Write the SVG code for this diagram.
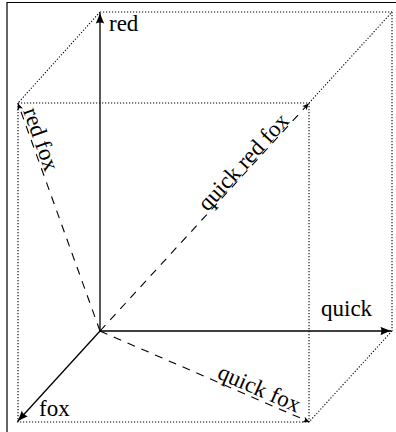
<svg xmlns="http://www.w3.org/2000/svg" width="396" height="432" viewBox="0 0 396 432">
<style>
.lbl{font-family:"Liberation Serif","Times New Roman",serif;font-size:23px;fill:#000}
.axis{stroke:#000;stroke-width:1.3;fill:none}
.dash{stroke:#000;stroke-width:1.1;fill:none;stroke-dasharray:8 7}
.dot{stroke:#000;stroke-width:1.1;fill:none;stroke-dasharray:1.2 1.8}
</style>
<defs>
<marker id="big" viewBox="-11 -5 12 10" markerWidth="12" markerHeight="10" refX="0" refY="0" orient="auto" markerUnits="userSpaceOnUse">
<path d="M0,0 C-3,-1 -7,-2.6 -10.5,-4.2 C-9.3,-1.5 -9.3,1.5 -10.5,4.2 C-7,2.6 -3,1 0,0Z" fill="#000"/>
</marker>
<marker id="small" viewBox="-7 -4 8 8" markerWidth="8" markerHeight="8" refX="0" refY="0" orient="auto" markerUnits="userSpaceOnUse">
<path d="M0,0 L-6.5,-3 L-4.8,0 L-6.5,3Z" fill="#000"/>
</marker>
</defs>
<rect width="396" height="432" fill="#fff"/>
<path d="M7,432 V2.5 H396" stroke="#000" stroke-width="1.2" fill="none"/>
<g id="connectors">
<g id="cube-edges">
<path class="dot" d="M100,12 H392"/>
<path class="dot" d="M100,12 L18,103"/>
<path class="dot" d="M18,103 H309"/>
<path class="dot" d="M309,103 L392,12"/>
<path class="dot" d="M392,12 V331"/>
<path class="dot" d="M309,103 V422"/>
<path class="dot" d="M392,331 L309,422"/>
<path class="dot" d="M17,422 H309"/>
<path class="dot" d="M18,103 V422"/>
</g>
<path class="axis" d="M100,331 V13" marker-end="url(#big)"/>
<path class="axis" d="M100,331 H391" marker-end="url(#big)"/>
<path class="axis" d="M100,331 L17.7,421.3" marker-end="url(#big)"/>
<path class="dash" d="M100,331 L18,103.5" marker-end="url(#small)"/>
<path class="dash" d="M100,331 L308.7,103.5" marker-end="url(#small)"/>
<path class="dash" d="M100,331 L309.5,422" marker-end="url(#small)"/>
</g>
<g id="red"><text class="lbl" x="109" y="31">red</text></g>
<g id="quick"><text class="lbl" x="321" y="316">quick</text></g>
<g id="fox"><text class="lbl" x="39" y="416">fox</text></g>
<g id="red-fox"><text class="lbl" text-anchor="middle" transform="translate(32.2,142.4) rotate(70.2)" x="0" y="-2">red fox</text></g>
<g id="quick-red-fox"><text class="lbl" text-anchor="middle" transform="translate(250,168) rotate(-47.5)" x="0" y="-1.5">quick red fox</text></g>
<g id="quick-fox"><text class="lbl" text-anchor="middle" transform="translate(255,398.5) rotate(23.5)" x="0" y="-3.5">quick fox</text></g>
</svg>
